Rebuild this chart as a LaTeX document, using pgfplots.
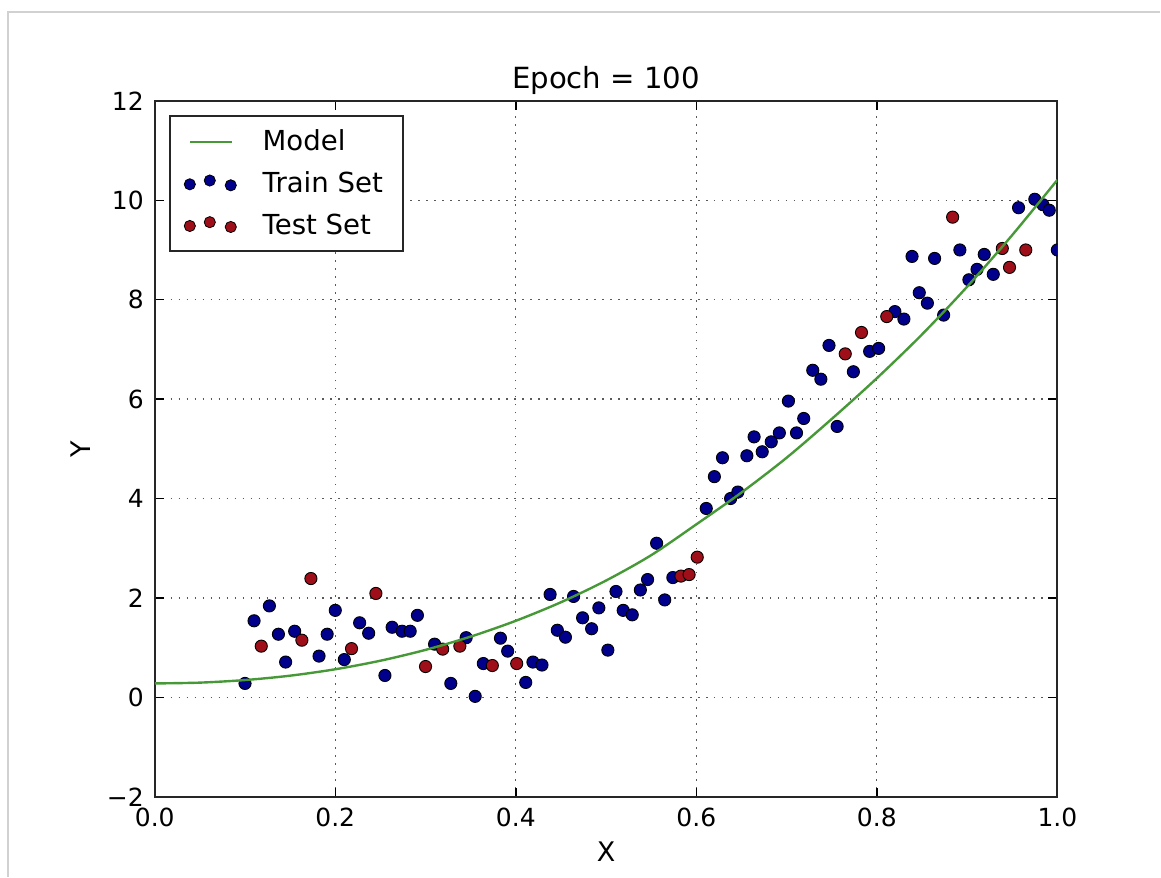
\documentclass[border=0pt]{standalone}
\usepackage{fontspec}
\setmainfont{DejaVu Sans}
\usepackage{pgfplots}
\pgfplotsset{compat=1.18}
\definecolor{trainblue}{rgb}{0.0,0.0,0.55}
\definecolor{testred}{rgb}{0.62,0.06,0.10}
\definecolor{modelgreen}{rgb}{0.28,0.60,0.22}
\begin{document}
\begin{tikzpicture}
\begin{axis}[
  at={(0pt,0pt)}, anchor=south west,
  width=452pt, height=348.5pt, scale only axis,
  xmin=0, xmax=1, ymin=-2, ymax=12,
  xtick={0,0.2,0.4,0.6,0.8,1.0},
  xticklabels={0.0,0.2,0.4,0.6,0.8,1.0},
  ytick={-2,0,2,4,6,8,10,12},
  yticklabels={−2,0,2,4,6,8,10,12},
  tick pos=both, tick align=inside,
  major tick length=4.5pt,
  tick style={black, line width=0.7pt},
  axis line style={black!85, line width=1.1pt},
  grid=major,
  major grid style={black!65, line width=0.6pt, dash pattern=on 0.8pt off 3.2pt},
  ticklabel style={font=\fontsize{12.5}{14}\selectfont},
  xticklabel style={yshift=-2pt},
  yticklabel style={xshift=-2pt},
  title={Epoch = 100},
  title style={font=\fontsize{14.6}{17}\selectfont, at={(axis description cs:0.5,1)}, anchor=base, yshift=0pt},
  xlabel={X}, ylabel={Y},
  xlabel style={font=\fontsize{13.5}{15}\selectfont, at={(axis description cs:0.5,-0.079)}, anchor=center},
  ylabel style={font=\fontsize{13.5}{15}\selectfont, at={(axis description cs:-0.082,0.5)}, anchor=center},
  clip marker paths=true,
  legend cell align=left,
  legend style={at={(axis description cs:0.0155,0.98)}, anchor=north west,
    draw=black!85, line width=1.1pt, fill=white,
    font=\fontsize{13.8}{16}\selectfont,
    inner xsep=7pt, inner ysep=4pt, row sep=3pt, column sep=10pt,
    nodes={inner sep=3pt}},
]
\addlegendimage{legend image code/.code={\draw[modelgreen, line width=1.2pt] (0pt,0pt) -- (21pt,0pt);}}
\addlegendentry{Model}
\addlegendimage{legend image code/.code={
  \fill[trainblue, draw=black, line width=0.4pt] (0pt,-0.3pt) circle (2.8pt);
  \fill[trainblue, draw=black, line width=0.4pt] (10pt,1.6pt) circle (2.8pt);
  \fill[trainblue, draw=black, line width=0.4pt] (20.5pt,-0.8pt) circle (2.8pt);}}
\addlegendentry{Train Set\hspace{2.5pt}}
\addlegendimage{legend image code/.code={
  \fill[testred, draw=black, line width=0.4pt] (0pt,-0.3pt) circle (2.8pt);
  \fill[testred, draw=black, line width=0.4pt] (10pt,1.6pt) circle (2.8pt);
  \fill[testred, draw=black, line width=0.4pt] (20.5pt,-0.8pt) circle (2.8pt);}}
\addlegendentry{Test Set}

\addplot[only marks, mark=*, mark size=3.05pt, mark options={fill=trainblue, draw=black, line width=0.45pt}, forget plot] coordinates {
(0.100,0.28) (0.110,1.54) (0.127,1.84) (0.137,1.27) (0.145,0.71) (0.155,1.33)
(0.182,0.83) (0.191,1.27) (0.200,1.75) (0.210,0.76) (0.227,1.50) (0.237,1.29)
(0.255,0.44) (0.263,1.41) (0.274,1.33) (0.283,1.33) (0.291,1.65) (0.310,1.07)
(0.328,0.28) (0.345,1.20) (0.355,0.02) (0.364,0.68) (0.383,1.19) (0.391,0.93)
(0.411,0.30) (0.419,0.71) (0.429,0.65) (0.438,2.07) (0.446,1.35) (0.455,1.21)
(0.464,2.03) (0.474,1.60) (0.484,1.38) (0.492,1.80) (0.502,0.95) (0.511,2.13)
(0.519,1.75) (0.529,1.66) (0.538,2.16) (0.546,2.37) (0.556,3.10) (0.565,1.96)
(0.574,2.41) (0.611,3.80) (0.620,4.44) (0.629,4.82) (0.638,4.00) (0.646,4.13)
(0.656,4.86) (0.664,5.24) (0.673,4.94) (0.683,5.14) (0.692,5.32) (0.702,5.96)
(0.711,5.32) (0.719,5.61) (0.729,6.58) (0.738,6.40) (0.747,7.08) (0.756,5.45)
(0.774,6.55) (0.792,6.96) (0.802,7.02) (0.820,7.76) (0.830,7.61) (0.839,8.87)
(0.847,8.14) (0.856,7.93) (0.864,8.83) (0.874,7.69) (0.892,9.00) (0.902,8.40)
(0.911,8.61) (0.919,8.91) (0.929,8.51) (0.957,9.85) (0.975,10.02) (0.984,9.91)
(0.991,9.80) (1.000,9.00)
};
\addplot[only marks, mark=*, mark size=3.05pt, mark options={fill=testred, draw=black, line width=0.45pt}, forget plot] coordinates {
(0.118,1.03) (0.163,1.15) (0.173,2.39) (0.218,0.98) (0.245,2.09) (0.300,0.62)
(0.319,0.97) (0.338,1.03) (0.374,0.64) (0.401,0.68) (0.583,2.44) (0.592,2.47)
(0.601,2.82) (0.765,6.91) (0.783,7.34) (0.811,7.66) (0.884,9.66) (0.939,9.03)
(0.947,8.65) (0.965,9.00)
};
\addplot[modelgreen, line width=1.2pt, smooth, forget plot] coordinates {
(0,0.28) (0.05,0.296) (0.1,0.348) (0.15,0.436) (0.2,0.565) (0.25,0.737)
(0.3,0.955) (0.35,1.222) (0.4,1.54) (0.45,1.913) (0.5,2.35) (0.55,2.86)
(0.6,3.48) (0.65,4.12) (0.7,4.82) (0.75,5.60) (0.8,6.42) (0.85,7.30)
(0.9,8.26) (0.95,9.30) (1.0,10.41)
};
\end{axis}
\draw[black!18, line width=0.8pt] (-73.5pt,-40pt) -- (-73.5pt,393pt) -- (503.5pt,393pt);
\path[use as bounding box] (-77.5pt,-40pt) rectangle (503pt,399pt);
\end{tikzpicture}
\end{document}
